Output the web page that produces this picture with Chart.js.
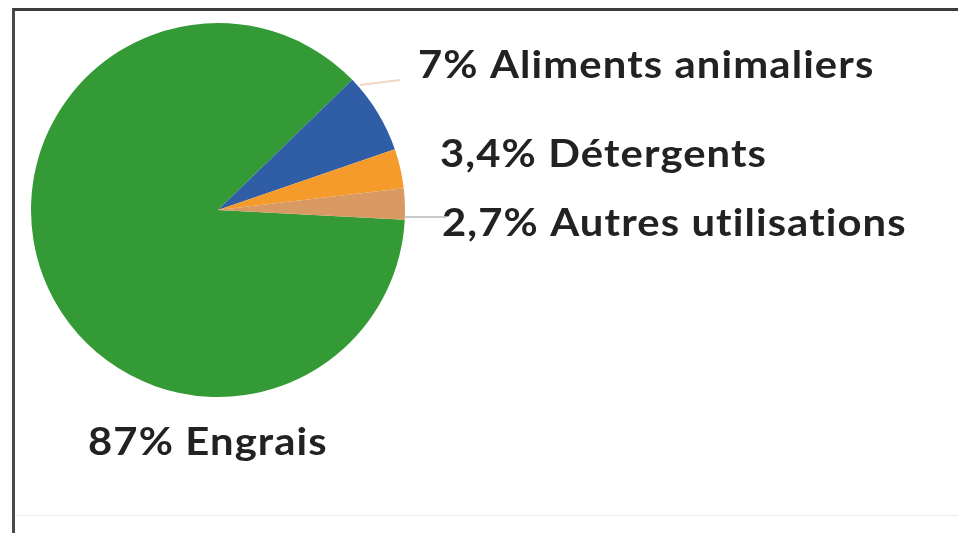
<!DOCTYPE html>
<html>
<head>
<meta charset="utf-8">
<script src="https://cdn.jsdelivr.net/npm/chart.js@4.4.1/dist/chart.umd.min.js"></script>
<style>
  html, body { margin: 0; padding: 0; background: #ffffff; }
  body { width: 958px; height: 533px; position: relative; overflow: hidden; }
  #frame {
    position: absolute; left: 12px; top: 8px; width: 960px; height: 540px;
    border-top: 3px solid #3c3c3c; border-left: 3px solid #4a4a4a;
    box-sizing: border-box;
  }
  #floor { position: absolute; left: 15px; top: 515px; width: 943px; height: 1px; background: #ececec; }
  #wrap { position: absolute; left: 0; top: 0; width: 958px; height: 533px; }
</style>
</head>
<body>
<div id="frame"></div>
<div id="floor"></div>
<div id="wrap"><canvas id="chart" width="958" height="533"></canvas></div>
<script>
// Uses of the product, share of total (%)
const categories = ['Engrais', 'Aliments animaliers', 'Détergents', 'Autres utilisations'];
const shares = [87, 7, 3.4, 2.7];
const sliceColors = ['#349a35', '#305ea6', '#f59b2c', '#d89a62'];

// French decimal comma for the percentage labels
const fmt = v => String(v).replace('.', ',') + '%';

// Label placement relative to the pie centre (baseline-left of each text)
const labelOffsets = [
  { dx: -130, dy: 245 },
  { dx: 200, dy: -132 },
  { dx: 222, dy: -43 },
  { dx: 224, dy: 26 }
];
// Short leader strokes next to two of the labels
const leaders = [
  null,
  { from: [142, -125], to: [182, -130], color: '#f1d6c4' },
  null,
  { from: [187, 7], to: [228, 7], color: '#c9c9c9' }
];
const textStretch = 1.1;

const outsideLabels = {
  id: 'outsideLabels',
  afterDatasetsDraw(chart) {
    const ctx = chart.ctx;
    const arcs = chart.getDatasetMeta(0).data;
    if (!arcs.length) return;
    const cx = arcs[0].x, cy = arcs[0].y;
    ctx.save();
    leaders.forEach(l => {
      if (!l) return;
      ctx.strokeStyle = l.color;
      ctx.lineWidth = 2;
      ctx.beginPath();
      ctx.moveTo(cx + l.from[0], cy + l.from[1]);
      ctx.lineTo(cx + l.to[0], cy + l.to[1]);
      ctx.stroke();
    });
    ctx.fillStyle = '#222222';
    ctx.font = 'bold 38px Lato';
    if ('letterSpacing' in ctx) ctx.letterSpacing = '1px';
    ctx.textBaseline = 'alphabetic';
    ctx.textAlign = 'left';
    categories.forEach((c, i) => {
      const o = labelOffsets[i];
      ctx.save();
      ctx.translate(cx + o.dx, cy + o.dy);
      ctx.scale(textStretch, 1);
      ctx.fillText(fmt(shares[i]) + ' ' + c, 0, 0);
      ctx.restore();
    });
    ctx.restore();
  }
};

new Chart(document.getElementById('chart'), {
  type: 'pie',
  data: {
    labels: categories,
    datasets: [{
      data: shares,
      backgroundColor: sliceColors,
      borderWidth: 0
    }]
  },
  options: {
    responsive: false,
    animation: false,
    rotation: 93,
    layout: { padding: { left: 31, top: 23, right: 553, bottom: 136 } },
    plugins: {
      legend: { display: false },
      tooltip: { enabled: false }
    }
  },
  plugins: [outsideLabels]
});
</script>
</body>
</html>
